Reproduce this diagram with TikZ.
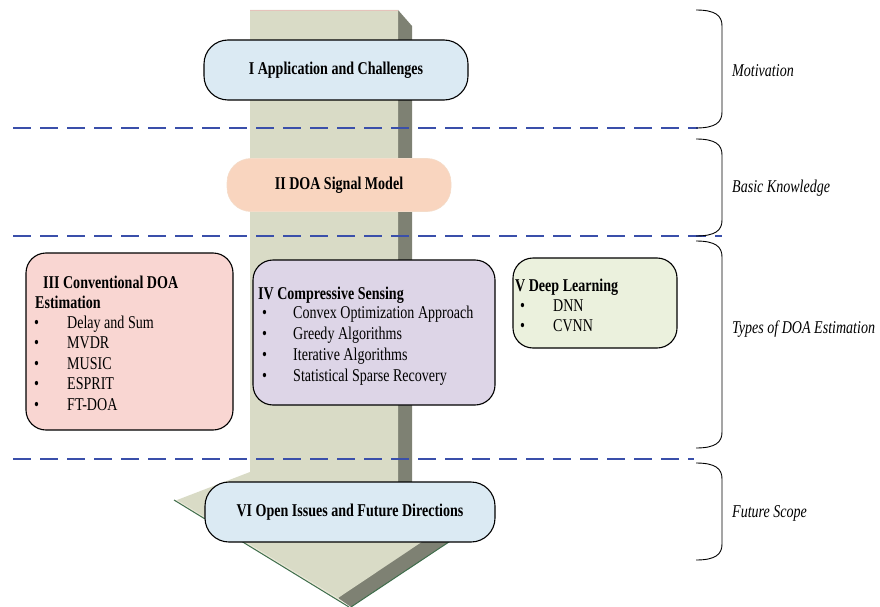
\documentclass[tikz,border=0pt]{standalone}
\usepackage{graphicx}
\usepackage{fontspec}
\setmainfont{Liberation Serif}
\definecolor{shaft}{HTML}{D9DBC6}
\definecolor{shaftdark}{HTML}{7E8173}
\definecolor{bevel}{HTML}{EAE7D6}
\definecolor{edgegreen}{HTML}{3F6E4C}
\definecolor{rimpink}{HTML}{E5C3BB}
\definecolor{dashblue}{HTML}{3A4FAA}
\definecolor{fillblue}{HTML}{DBEAF3}
\definecolor{fillpeach}{HTML}{F9D5BF}
\definecolor{fillpink}{HTML}{F9D6D2}
\definecolor{filllilac}{HTML}{DDD5E7}
\definecolor{fillgreen}{HTML}{EBF1DD}
% narrow, tall lettering
\newcommand{\nar}[1]{\scalebox{0.78}[1]{#1}}
\begin{document}
\begin{tikzpicture}[x=1pt,y=-1pt,
  card/.style={draw=black, line width=1.1pt, rounded corners=20pt, inner sep=0pt},
  pill/.style={card, rounded corners=24pt, font=\fontsize{18}{20}\selectfont\bfseries},
  txt/.style={anchor=base west, inner sep=0pt, font=\fontsize{18}{20}\selectfont},
  ttl/.style={txt, font=\fontsize{18}{20}\selectfont\bfseries},
  lbl/.style={anchor=west, inner sep=0pt, font=\fontsize{18}{20}\selectfont\itshape},
  sep/.style={dashblue, line width=2pt, dash pattern=on 18pt off 9pt},
  brace/.style={black, line width=0.9pt}
]
\useasboundingbox (0,0) rectangle (880,607);

% the big 3D arrow running down the page
\fill[shaftdark] (398,10) -- (412,26) -- (412,505) -- (488,516) -- (351,607)
  -- (338,598) -- (398,497) -- cycle;
\draw[edgegreen, line width=1pt] (488,516) -- (351,607);
\fill[bevel] (174,500) -- (177,500) -- (338,598) -- (349,607) -- cycle;
\draw[edgegreen, line width=1pt] (174,500) -- (349,607);
\fill[shaft] (250,10) -- (398,10) -- (398,497) -- (474,507) -- (338,598)
  -- (177,500) -- (250,472) -- cycle;
\draw[rimpink, line width=0.8pt] (250,10) -- (398,10);

% section separators
\draw[sep] (13,128) -- (698,128);
\draw[sep] (13,236) -- (722,236);
\draw[sep] (13,459) -- (694,459);

% section braces
\foreach \t/\b in {10/128, 139/236, 241/448, 463/560}{
  \draw[brace] (696,\t) .. controls (716,\t) and (722,\t+6) .. (722,\t+16)
    -- (722,\b-16) .. controls (722,\b-6) and (716,\b) .. (696,\b);
}
\node[lbl] (motiv) at (732,71) {\nar{Motivation}};
\node[lbl] (basic) at (732,188) {\nar{Basic Knowledge}};
\node[lbl] (types) at (732,329) {\nar{Types of DOA Estimation}};
\node[lbl] (future) at (732,513) {\nar{Future Scope}};

% section boxes
\node[pill, fill=fillblue, minimum width=264pt, minimum height=60pt] (app) at (336,70)
  {\nar{I Application and Challenges}};
\node[pill, draw=fillpeach!80!brown!60, line width=0.6pt, fill=fillpeach,
  minimum width=224pt, minimum height=53pt] (model) at (339,185)
  {\nar{II DOA Signal Model}};
\node[card, fill=fillpink, minimum width=207pt, minimum height=177pt] (conv) at (129.5,341.5) {};
\node[card, fill=filllilac, minimum width=242pt, minimum height=145pt] (cs) at (374,332.5) {};
\node[card, fill=fillgreen, minimum width=164pt, minimum height=90pt] (dl) at (595,303) {};
\node[pill, fill=fillblue, minimum width=290pt, minimum height=60pt] (open) at (350,512)
  {\nar{VI Open Issues and Future Directions}};

% conventional estimation
\node[ttl] (convt1) at (43,288) {\nar{III Conventional DOA}};
\node[ttl] (convt2) at (35,308) {\nar{Estimation}};
\foreach \y/\s/\n in {328/Delay and Sum/a, 348/MVDR/b, 369/MUSIC/c, 389/ESPRIT/d, 410/FT-DOA/e}{
  \node[txt] (convb\n) at (34,\y) {\nar{\textbullet}};
  \node[txt] (convi\n) at (67,\y) {\nar{\s}};
}

% compressive sensing
\node[ttl] (cst) at (258,299) {\nar{IV Compressive Sensing}};
\foreach \y/\s/\n in {318/Convex Optimization Approach/a, 339/Greedy Algorithms/b,
  360/Iterative Algorithms/c, 381/Statistical Sparse Recovery/d}{
  \node[txt] (csb\n) at (262,\y) {\nar{\textbullet}};
  \node[txt] (csi\n) at (293,\y) {\nar{\s}};
}

% deep learning
\node[ttl] (dlt) at (515,291) {\nar{V Deep Learning}};
\foreach \y/\s/\n in {311/DNN/a, 331/CVNN/b}{
  \node[txt] (dlb\n) at (520,\y) {\nar{\textbullet}};
  \node[txt] (dli\n) at (553,\y) {\nar{\s}};
}
\end{tikzpicture}
\end{document}
